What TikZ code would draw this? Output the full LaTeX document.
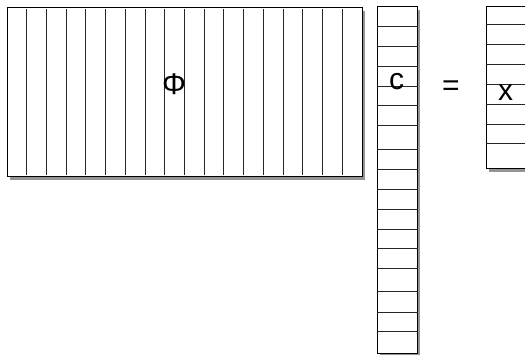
\documentclass[tikz,border=0pt]{standalone}
\usepackage{fontspec}
\setmainfont{Liberation Sans}
\usetikzlibrary{shadows}
\begin{document}
\begin{tikzpicture}[x=1pt,y=-1pt,
 box/.style={draw=black, line width=1.4pt, fill=white, inner sep=0pt, anchor=north west,
   drop shadow={opacity=0.6, fill=black!70, shadow xshift=2.5pt, shadow yshift=-3pt}},
 gridline/.style={line width=0.9pt, black!85},
 lbl/.style={font=\fontsize{30}{30}\selectfont, inner sep=0pt}]
\useasboundingbox (0,0) rectangle (525,354);
\clip (0,0) rectangle (525,354);
% Phi matrix
\node[box, minimum width=355pt, minimum height=169pt] (phi) at (7,7) {};
\foreach \i in {1,...,17}
  \draw[gridline] ([xshift=\i*355/18 pt, yshift=-2pt]phi.north west) -- ([xshift=\i*355/18 pt, yshift=2pt]phi.south west);
% c vector
\node[box, minimum width=40pt, minimum height=347pt] (cv) at (377,6) {};
\foreach \d in {20,40,60,80,99,119,143,163,183,203,223,242,262,285,306,325}
  \draw[gridline] ([yshift=-\d pt]cv.north west) -- ([yshift=-\d pt]cv.north east);
% x vector
\node[box, minimum width=60pt, minimum height=162pt] (xv) at (486,6) {};
\foreach \d in {18,38,58,78,98,118,137}
  \draw[gridline] ([yshift=-\d pt]xv.north west) -- ([yshift=-\d pt]xv.north east);
% labels
\node[lbl] (philbl) at (174,84) {Φ};
\node[lbl] (clbl) at (396.5,82) {c};
\node[lbl] (eqlbl) at (451,88) {=};
\node[lbl] (xlbl) at (505.5,92.5) {x};
\end{tikzpicture}
\end{document}
